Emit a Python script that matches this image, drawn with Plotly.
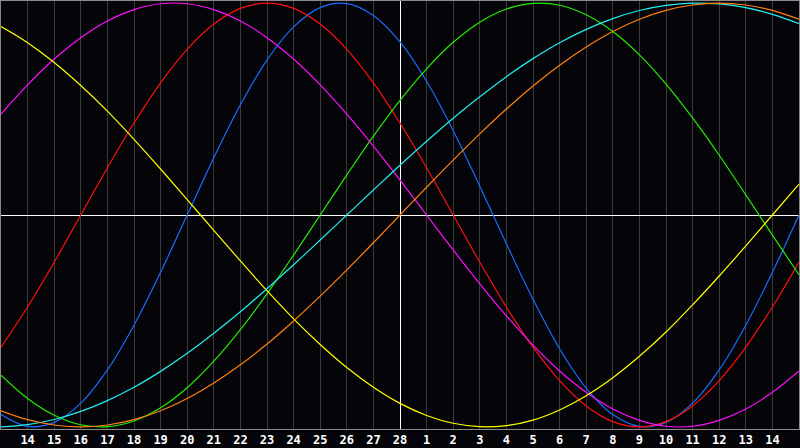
import plotly.graph_objects as go

# day offsets relative to the marked day (Feb 28)
days = list(range(-15, 16))
tick_days = list(range(-14, 15))
tick_labels = ["14", "15", "16", "17", "18", "19", "20", "21", "22", "23", "24", "25", "26", "27", "28",
               "1", "2", "3", "4", "5", "6", "7", "8", "9", "10", "11", "12", "13", "14"]

# daily cycle values (-1 .. 1)
blue_23 = [-0.942, -0.998, -0.979, -0.888, -0.731, -0.520, -0.270, 0.000, 0.270, 0.520, 0.731, 0.888,
           0.979, 0.998, 0.942, 0.817, 0.631, 0.398, 0.136, -0.136, -0.398, -0.631, -0.817, -0.942,
           -0.998, -0.979, -0.888, -0.731, -0.520, -0.270, 0.000]
red_28 = [-0.624, -0.434, -0.223, 0.000, 0.223, 0.434, 0.624, 0.782, 0.901, 0.975, 1.000, 0.975,
          0.901, 0.782, 0.624, 0.434, 0.223, 0.000, -0.223, -0.434, -0.624, -0.782, -0.901, -0.975,
          -1.000, -0.975, -0.901, -0.782, -0.624, -0.434, -0.223]
green_33 = [-0.756, -0.866, -0.945, -0.990, -0.999, -0.972, -0.910, -0.815, -0.690, -0.541, -0.372, -0.189,
            0.000, 0.189, 0.372, 0.541, 0.690, 0.815, 0.910, 0.972, 0.999, 0.990, 0.945, 0.866,
            0.756, 0.618, 0.458, 0.282, 0.095, -0.095, -0.282]
magenta_38 = [0.476, 0.614, 0.736, 0.837, 0.916, 0.969, 0.997, 0.997, 0.969, 0.916, 0.837, 0.736,
              0.614, 0.476, 0.325, 0.165, 0.000, -0.165, -0.325, -0.476, -0.614, -0.736, -0.837, -0.916,
              -0.969, -0.997, -0.997, -0.969, -0.916, -0.837, -0.736]
yellow_43 = [0.889, 0.813, 0.720, 0.611, 0.490, 0.357, 0.217, 0.073, -0.073, -0.217, -0.357, -0.490,
             -0.611, -0.720, -0.813, -0.889, -0.946, -0.983, -0.999, -0.994, -0.968, -0.920, -0.853, -0.768,
             -0.667, -0.552, -0.424, -0.288, -0.146, 0.000, 0.146]
orange_48 = [-0.924, -0.966, -0.991, -1.000, -0.991, -0.966, -0.924, -0.866, -0.793, -0.707, -0.609, -0.500,
             -0.383, -0.259, -0.131, 0.000, 0.131, 0.259, 0.383, 0.500, 0.609, 0.707, 0.793, 0.866,
             0.924, 0.966, 0.991, 1.000, 0.991, 0.966, 0.924]
cyan_53 = [-1.000, -0.989, -0.965, -0.927, -0.876, -0.813, -0.738, -0.653, -0.558, -0.457, -0.348, -0.235,
           -0.118, 0.000, 0.118, 0.235, 0.348, 0.457, 0.558, 0.653, 0.738, 0.813, 0.876, 0.927,
           0.965, 0.989, 1.000, 0.996, 0.979, 0.947, 0.903]

series = [
    ("23", blue_23, "#1a6cff"),
    ("28", red_28, "#ff1010"),
    ("33", green_33, "#22ee00"),
    ("38", magenta_38, "#ff10ff"),
    ("43", yellow_43, "#ffff00"),
    ("53", cyan_53, "#22eeee"),
    ("48", orange_48, "#ff8010"),
]

fig = go.Figure()
for name, vals, col in series:
    fig.add_trace(go.Scatter(x=days, y=vals, mode="lines", name=name,
                             line=dict(color=col, width=1.2, shape="spline", smoothing=1.0),
                             hoverinfo="skip"))

bg = "#050408"
fig.update_layout(
    width=800, height=448,
    margin=dict(l=1, r=1, t=1, b=19),
    paper_bgcolor=bg, plot_bgcolor=bg,
    showlegend=False,
    xaxis=dict(range=[-15, 15], tickvals=tick_days, ticktext=tick_labels,
               showgrid=True, gridcolor="#3a3a3a", gridwidth=1,
               zeroline=True, zerolinecolor="#ffffff", zerolinewidth=1,
               showline=True, mirror=True, linecolor="#8a8a8a", linewidth=1,
               ticks="", tickfont=dict(family="DejaVu Sans Mono", size=12, color="#ffffff", weight="bold"),
               fixedrange=True),
    yaxis=dict(range=[-1.01, 1.01], showgrid=False, showticklabels=False,
               zeroline=True, zerolinecolor="#ffffff", zerolinewidth=1,
               showline=True, mirror=True, linecolor="#8a8a8a", linewidth=1,
               ticks="", fixedrange=True),
)

fig.write_html("out.html", config={"displayModeBar": False},
               post_script="document.body.style.margin='0';document.body.style.background='#050408';")
